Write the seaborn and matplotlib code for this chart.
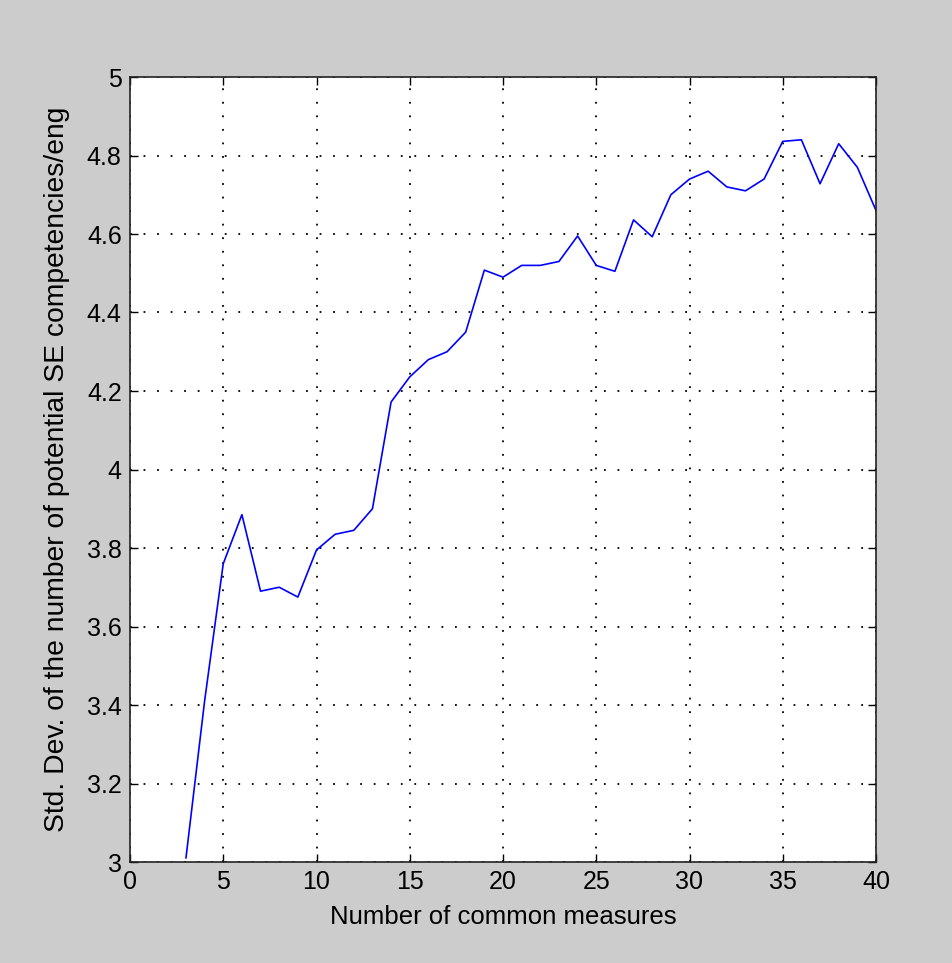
import numpy as np
import pandas as pd
import seaborn as sns
import matplotlib.pyplot as plt

# values
n_measures = [3, 4, 5, 6, 7, 8, 9, 10, 11, 12, 13, 14, 15, 16, 17, 18, 19, 20, 21,
              22, 23, 24, 25, 26, 27, 28, 29, 30, 31, 32, 33, 34, 35, 36, 37, 38, 39, 40]
std_dev = [3.01, 3.41, 3.76, 3.885, 3.69, 3.70, 3.675, 3.795, 3.835, 3.845, 3.90, 4.172,
           4.236, 4.28, 4.30, 4.35, 4.508, 4.49, 4.52, 4.52, 4.53, 4.595, 4.52, 4.505,
           4.636, 4.593, 4.70, 4.74, 4.76, 4.72, 4.71, 4.74, 4.836, 4.84, 4.728, 4.83,
           4.77, 4.66]
x_ticks = [0, 5, 10, 15, 20, 25, 30, 35, 40]
y_ticks = [3, 3.2, 3.4, 3.6, 3.8, 4, 4.2, 4.4, 4.6, 4.8, 5]
y_ticklabels = ['3', '3.2', '3.4', '3.6', '3.8', '4', '4.2', '4.4', '4.6', '4.8', '5']

df = pd.DataFrame({'n': n_measures, 'sd': std_dev})

sns.set_style('ticks')
plt.rcParams['font.family'] = ['Liberation Sans', 'DejaVu Sans']
plt.rcParams['xtick.direction'] = 'in'
plt.rcParams['ytick.direction'] = 'in'
plt.rcParams['text.color'] = 'black'
plt.rcParams['axes.labelcolor'] = 'black'
plt.rcParams['xtick.color'] = 'black'
plt.rcParams['ytick.color'] = 'black'

fig = plt.figure(figsize=(9.53, 9.63), dpi=100, facecolor='#cccccc')
ax = fig.add_axes([130 / 953, 1 - 862 / 963, 746 / 953, 785 / 963])
ax.set_facecolor('white')

sns.lineplot(data=df, x='n', y='sd', ax=ax, color='#0000ff', linewidth=1.2)

ax.set_xlim(0, 40)
ax.set_ylim(3, 5)
ax.set_xticks(x_ticks)
ax.set_yticks(y_ticks)
ax.set_yticklabels(y_ticklabels)
ax.grid(True, color='black', linestyle=(0, (1, 6.5)), linewidth=1.3)
ax.tick_params(axis='both', which='both', labelsize=18, length=6, width=1,
               top=True, right=True, pad=6)
for s in ax.spines.values():
    s.set_color('#222222')
    s.set_linewidth(1.2)

ax.set_xlabel('Number of common measures', fontsize=18.5, labelpad=8)
ax.set_ylabel('Std. Dev. of the number of potential SE competencies/eng', fontsize=20.3, labelpad=12)

fig.savefig('out.png', dpi=100, facecolor=fig.get_facecolor())
